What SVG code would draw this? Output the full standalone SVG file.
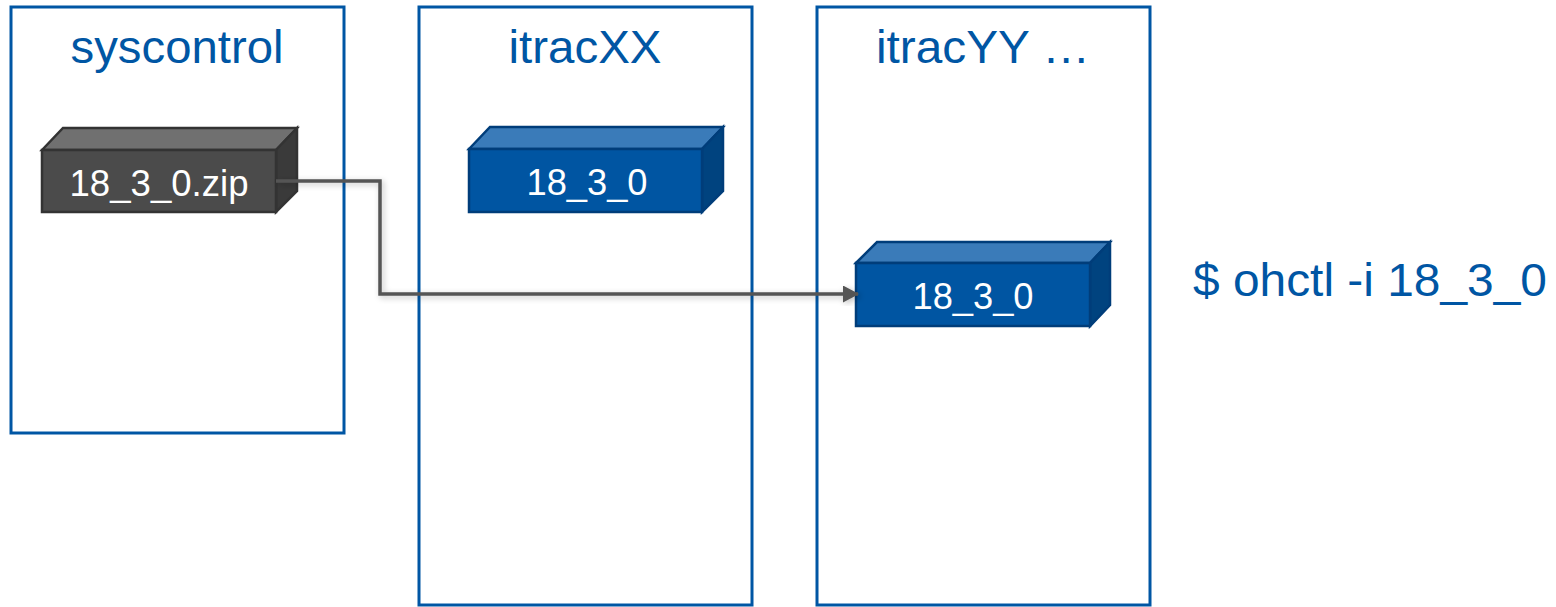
<svg xmlns="http://www.w3.org/2000/svg" width="1556" height="607" viewBox="0 0 1556 607">
<style>
.frame{fill:#fff;stroke:#0056a4;stroke-width:3}
.title{font-family:"Liberation Sans",Arial,sans-serif;font-size:46px;fill:#0056a4;text-anchor:middle}
.lbl{font-family:"Liberation Sans",Arial,sans-serif;font-size:37px;fill:#fff;text-anchor:middle}
.dk-front{fill:#4b4b4b;stroke:#333;stroke-width:2.5}
.dk-top{fill:#707070;stroke:#333;stroke-width:2.5}
.dk-side{fill:#3a3a3a;stroke:#333;stroke-width:2.5}
.bl-front{fill:#0055a2;stroke:#003d7a;stroke-width:2.5}
.bl-top{fill:#3a7bb9;stroke:#003d7a;stroke-width:2.5}
.bl-side{fill:#00437f;stroke:#003d7a;stroke-width:2.5}
.conn{fill:none;stroke:#555;stroke-width:3.5}
</style>
<defs>
<marker id="arr" markerWidth="16" markerHeight="17" refX="15" refY="8.5" orient="auto" markerUnits="userSpaceOnUse" viewBox="0 0 16 17">
<path d="M0,0 L16,8.5 L0,17 z" fill="#555"/>
</marker>
<filter id="glow" x="-10%" y="-10%" width="120%" height="120%">
<feGaussianBlur in="SourceAlpha" stdDeviation="3"/>
<feOffset dx="2" dy="2" result="b"/>
<feComponentTransfer><feFuncA type="linear" slope="0.25"/></feComponentTransfer>
<feMerge><feMergeNode/><feMergeNode in="SourceGraphic"/></feMerge>
</filter>
</defs>
<g id="syscontrol">
<rect class="frame" x="11" y="7" width="333" height="426"/>
<text class="title" x="177" y="63" textLength="213" lengthAdjust="spacingAndGlyphs">syscontrol</text>
</g>
<g id="itracXX">
<rect class="frame" x="419" y="7" width="333" height="598"/>
<text class="title" x="585" y="63" textLength="153" lengthAdjust="spacingAndGlyphs">itracXX</text>
</g>
<g id="itracYY">
<rect class="frame" x="817" y="7" width="333" height="598"/>
<text class="title" x="983" y="63" textLength="214" lengthAdjust="spacingAndGlyphs">itracYY …</text>
</g>
<g id="zip">
<polygon class="dk-top" points="42,150 63,128 297,128 276,150"/>
<polygon class="dk-side" points="276,150 297,128 297,191 276,212"/>
<rect class="dk-front" x="42" y="150" width="234" height="62"/>
<text class="lbl" x="159" y="196" textLength="179" lengthAdjust="spacingAndGlyphs">18_3_0.zip</text>
</g>
<g id="ver-xx">
<polygon class="bl-top" points="469,149 490,127 723,127 702,149"/>
<polygon class="bl-side" points="702,149 723,127 723,191 702,212"/>
<rect class="bl-front" x="469" y="149" width="233" height="63"/>
<text class="lbl" x="587" y="195" textLength="121" lengthAdjust="spacingAndGlyphs">18_3_0</text>
</g>
<g id="ver-yy">
<polygon class="bl-top" points="856,263 877,242 1110,242 1090,263"/>
<polygon class="bl-side" points="1090,263 1110,242 1110,305 1090,326"/>
<rect class="bl-front" x="856" y="263" width="234" height="63"/>
<text class="lbl" x="973" y="309" textLength="121" lengthAdjust="spacingAndGlyphs">18_3_0</text>
</g>
<g id="connectors">
<path class="conn" filter="url(#glow)" d="M276,181 H380 V294 H858" marker-end="url(#arr)"/>
</g>
<g id="cmd">
<text class="title" x="1193" y="296" style="text-anchor:start" textLength="354" lengthAdjust="spacingAndGlyphs">$ ohctl -i 18_3_0</text>
</g>
</svg>
